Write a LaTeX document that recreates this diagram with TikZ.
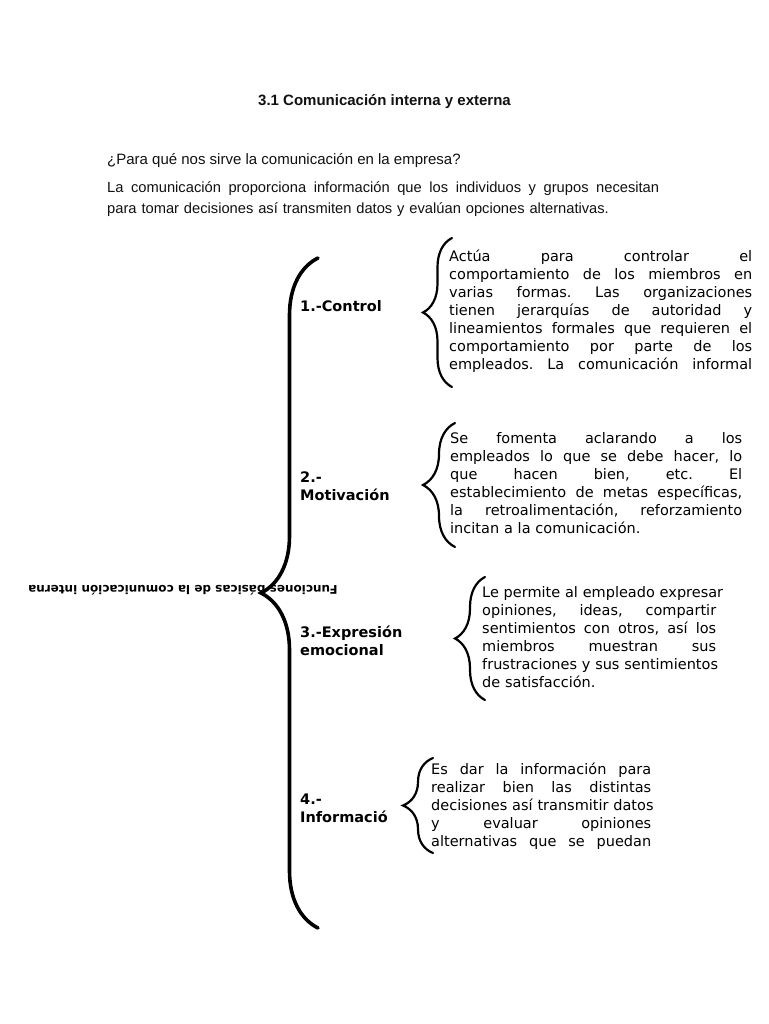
\documentclass[tikz,border=0pt]{standalone}
\usepackage{fontspec}
\setmainfont{Liberation Sans}
\newfontfamily\dejavu{DejaVu Sans}
\usepackage{tikz}
\usetikzlibrary{decorations.pathreplacing}
\definecolor{inkblack}{HTML}{111111}

\newlength{\jw}
\newcommand{\jl}[1]{\makebox[\jw][s]{\frenchspacing\spaceskip=0.33em plus 1fil\xspaceskip=\spaceskip\relax #1}}

\tikzset{
  headtext/.style={inner sep=0pt, anchor=base west, text=inkblack, font=\fontsize{15}{21}\selectfont},
  itemlabel/.style={inner sep=0pt, anchor=base west, align=left, font=\dejavu\bfseries\fontsize{14.5}{18}\selectfont},
  itemtext/.style={inner sep=0pt, anchor=base west, align=left, text width=#1,
    execute at begin node={\setlength{\jw}{#1}}, font=\dejavu\fontsize{14.5}{18}\selectfont},
  bracebig/.style={decorate, decoration={brace, amplitude=57pt}, line width=3.6pt, line cap=round},
  bracesmall/.style={decorate, decoration={brace, amplitude=#1}, line width=2.2pt, line cap=round},
}

\begin{document}
\begin{tikzpicture}[x=1pt, y=-1pt]
\fill[white] (0,0) rectangle (768,1024);
\useasboundingbox (0,0) rectangle (768,1024);

% encabezado
\node[headtext, anchor=base, font=\bfseries\fontsize{15}{18}\selectfont] (title) at (384.5,106) {3.1 Comunicación interna y externa};
\node[headtext] (question) at (107,165) {¿Para qué nos sirve la comunicación en la empresa?};
\node[headtext, text width=552pt, align=left, execute at begin node={\setlength{\jw}{552pt}}, font=\fontsize{14.7}{21}\selectfont] (intro) at (107,193) {\jl{La comunicación proporciona información que los individuos y grupos necesitan}\\
para tomar decisiones así transmiten datos y evalúan opciones alternativas.};

% llave principal
\node[rotate=180, font=\dejavu\bfseries\fontsize{12}{14}\selectfont] (root) at (183,590) {Funciones básicas de la comunicación interna};
\coordinate (mainbot) at (318,928);
\coordinate (maintop) at (318,258);
\draw[bracebig] (mainbot) -- (maintop);

% funciones
\node[itemlabel] (control) at (300,311.5) {1.-Control};
\node[itemlabel] (motiv) at (300,500) {2.-\\Motivación};
\node[itemlabel] (expr) at (300,655) {3.-Expresión\\emocional};
\node[itemlabel] (info) at (300,822) {4.-\\Informació};

% textos
\node[itemtext=303pt] (controltext) at (449,261) {\jl{Actúa para controlar el}\\
\jl{comportamiento de los miembros en}\\
\jl{varias formas. Las organizaciones}\\
\jl{tienen jerarquías de autoridad y}\\
\jl{lineamientos formales que requieren el}\\
\jl{comportamiento por parte de los}\\
\jl{empleados. La comunicación informal}};
\node[itemtext=292pt] (motivtext) at (450,443) {\jl{Se fomenta aclarando a los}\\
\jl{empleados lo que se debe hacer, lo}\\
\jl{que hacen bien, etc. El}\\
\jl{establecimiento de metas específicas,}\\
\jl{la retroalimentación, reforzamiento}\\
incitan a la comunicación.};
\node[itemtext=234pt] (exprtext) at (482,597) {\jl{Le permite al empleado expresar}\\
\jl{opiniones, ideas, compartir}\\
\jl{sentimientos con otros, así los}\\
\jl{miembros muestran sus}\\
\jl{frustraciones y sus sentimientos}\\
de satisfacción.};
\node[itemtext=220pt] (infotext) at (431,774) {\jl{Es dar la información para}\\
\jl{realizar bien las distintas}\\
\jl{decisiones así transmitir datos}\\
\jl{y evaluar opiniones}\\
\jl{alternativas que se puedan}};

% llaves
\coordinate (c1bot) at (452,387);
\coordinate (c1top) at (452,238);
\coordinate (c2bot) at (455,547);
\coordinate (c2top) at (455,423);
\coordinate (c3bot) at (485,700);
\coordinate (c3top) at (485,577);
\coordinate (c4bot) at (433,853);
\coordinate (c4top) at (433,758);
\draw[bracesmall=29pt] (c1bot) -- (c1top);
\draw[bracesmall=32pt] (c2bot) -- (c2top);
\draw[bracesmall=30pt] (c3bot) -- (c3top);
\draw[bracesmall=30pt] (c4bot) -- (c4top);
\end{tikzpicture}
\end{document}
